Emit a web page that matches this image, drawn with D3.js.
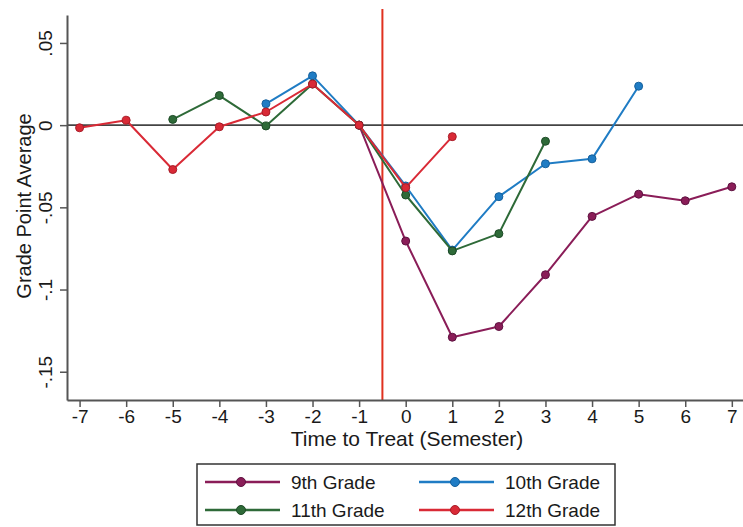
<!DOCTYPE html>
<html>
<head>
<meta charset="utf-8">
<script src="https://cdn.jsdelivr.net/npm/d3@7"></script>
<style>
  html, body { margin: 0; padding: 0; background: #fff; }
  svg { display: block; font-family: "Liberation Sans", Arial, Helvetica, sans-serif; }
</style>
</head>
<body>
<svg id="chart" width="743" height="527"></svg>
<script>
// Event-study estimates of grade point average by semester relative to treatment
const periods = [-7, -6, -5, -4, -3, -2, -1, 0, 1, 2, 3, 4, 5, 6, 7];
const xTicks = [-7, -6, -5, -4, -3, -2, -1, 0, 1, 2, 3, 4, 5, 6, 7];
const xTickLabels = ["-7", "-6", "-5", "-4", "-3", "-2", "-1", "0", "1", "2", "3", "4", "5", "6", "7"];
const yTicks = [0.05, 0, -0.05, -0.1, -0.15];
const yTickLabels = [".05", "0", "-.05", "-.1", "-.15"];

// null = no estimate for that semester
const grade9 = [null, null, null, null, null, null, 0, -0.0705, -0.129, -0.1225, -0.091, -0.0555, -0.042, -0.046, -0.0375];
const grade10 = [null, null, null, null, 0.013, 0.030, 0, -0.037, -0.076, -0.0435, -0.0235, -0.0205, 0.0237, null, null];
const grade11 = [null, null, 0.0035, 0.018, -0.0005, 0.025, 0, -0.0425, -0.0765, -0.066, -0.0098, null, null, null, null];
const grade12 = [-0.0016, 0.003, -0.027, -0.001, 0.008, 0.025, 0, -0.038, -0.007, null, null, null, null, null, null];

const seriesNames = ["9th Grade", "10th Grade", "11th Grade", "12th Grade"];
const seriesValues = [grade9, grade10, grade11, grade12];
const seriesColors = ["#8a1d58", "#1f7cc4", "#2e6a38", "#d92a36"];
const seriesStroke = ["#5e1240", "#15609c", "#1d4a26", "#a81c28"];
const treatLine = -0.5;

const svg = d3.select("#chart");

const x = d3.scaleLinear().domain([-7.27, 7.24]).range([67, 743]);
const y = d3.scaleLinear().domain([-0.1672, 0.067]).range([400, 15]);

// reference line at zero
svg.append("line")
  .attr("x1", x.range()[0]).attr("x2", x.range()[1])
  .attr("y1", y(0)).attr("y2", y(0))
  .attr("stroke", "#444").attr("stroke-width", 1.6);

// treatment onset
svg.append("line")
  .attr("x1", x(treatLine)).attr("x2", x(treatLine))
  .attr("y1", 9).attr("y2", y.range()[0])
  .attr("stroke", "#e0311f").attr("stroke-width", 2);

// series lines and markers
const line = d3.line()
  .defined(d => d.v !== null)
  .x(d => x(d.t))
  .y(d => y(d.v));

seriesValues.forEach((vals, i) => {
  const pts = periods.map((t, j) => ({ t, v: vals[j] }));
  svg.append("path")
    .datum(pts)
    .attr("fill", "none")
    .attr("stroke", seriesColors[i])
    .attr("stroke-width", 2)
    .attr("stroke-linejoin", "round")
    .attr("d", line);
  svg.append("g").selectAll("circle")
    .data(pts.filter(d => d.v !== null))
    .join("circle")
    .attr("cx", d => x(d.t))
    .attr("cy", d => y(d.v))
    .attr("r", 4)
    .attr("fill", seriesColors[i])
    .attr("stroke", seriesStroke[i])
    .attr("stroke-width", 1);
});

// y axis
const yAxis = svg.append("g")
  .attr("transform", `translate(${x.range()[0]},0)`)
  .call(d3.axisLeft(y).tickValues(yTicks).tickSize(7).tickSizeOuter(0)
    .tickFormat((d, i) => yTickLabels[i]));
yAxis.select(".domain").attr("stroke", "#555").attr("stroke-width", 2);
yAxis.selectAll(".tick line").attr("stroke", "#555").attr("stroke-width", 1.5);
yAxis.selectAll(".tick text")
  .attr("fill", "#1a1a1a")
  .attr("font-size", 19)
  .attr("x", 0).attr("dy", 0)
  .attr("text-anchor", "middle")
  .attr("transform", "translate(-15,0) rotate(-90)");

// x axis
const xAxis = svg.append("g")
  .attr("transform", `translate(0,${y.range()[0]})`)
  .call(d3.axisBottom(x).tickValues(xTicks).tickSize(7).tickSizeOuter(0)
    .tickFormat((d, i) => xTickLabels[i]));
xAxis.select(".domain").attr("stroke", "#555").attr("stroke-width", 2);
xAxis.selectAll(".tick line").attr("stroke", "#555").attr("stroke-width", 1.5);
xAxis.selectAll(".tick text")
  .attr("fill", "#1a1a1a")
  .attr("font-size", 19)
  .attr("y", 10);

// axis titles
svg.append("text")
  .attr("x", 407).attr("y", 446)
  .attr("text-anchor", "middle")
  .attr("font-size", 21)
  .attr("fill", "#1a1a1a")
  .text("Time to Treat (Semester)");

svg.append("text")
  .attr("transform", "translate(31,206) rotate(-90)")
  .attr("text-anchor", "middle")
  .attr("font-size", 20)
  .attr("fill", "#1a1a1a")
  .text("Grade Point Average");

// legend
const legend = svg.append("g");
legend.append("rect")
  .attr("x", 197).attr("y", 464)
  .attr("width", 418).attr("height", 61)
  .attr("fill", "#fff")
  .attr("stroke", "#333").attr("stroke-width", 1.5);

const legendPos = [
  { lx: 205, ly: 482 }, { lx: 419, ly: 482 },
  { lx: 205, ly: 510 }, { lx: 419, ly: 510 }
];
seriesNames.forEach((name, i) => {
  const p = legendPos[i];
  const g = legend.append("g").attr("transform", `translate(${p.lx},${p.ly})`);
  g.append("line").attr("x1", 0).attr("x2", 75).attr("y1", 0).attr("y2", 0)
    .attr("stroke", seriesColors[i]).attr("stroke-width", 2.5);
  g.append("circle").attr("cx", 36).attr("cy", 0).attr("r", 4.5)
    .attr("fill", seriesColors[i]).attr("stroke", seriesStroke[i]);
  g.append("text").attr("x", 86).attr("y", 0).attr("dy", "0.35em")
    .attr("font-size", 19).attr("fill", "#1a1a1a")
    .text(name);
});
</script>
</body>
</html>
